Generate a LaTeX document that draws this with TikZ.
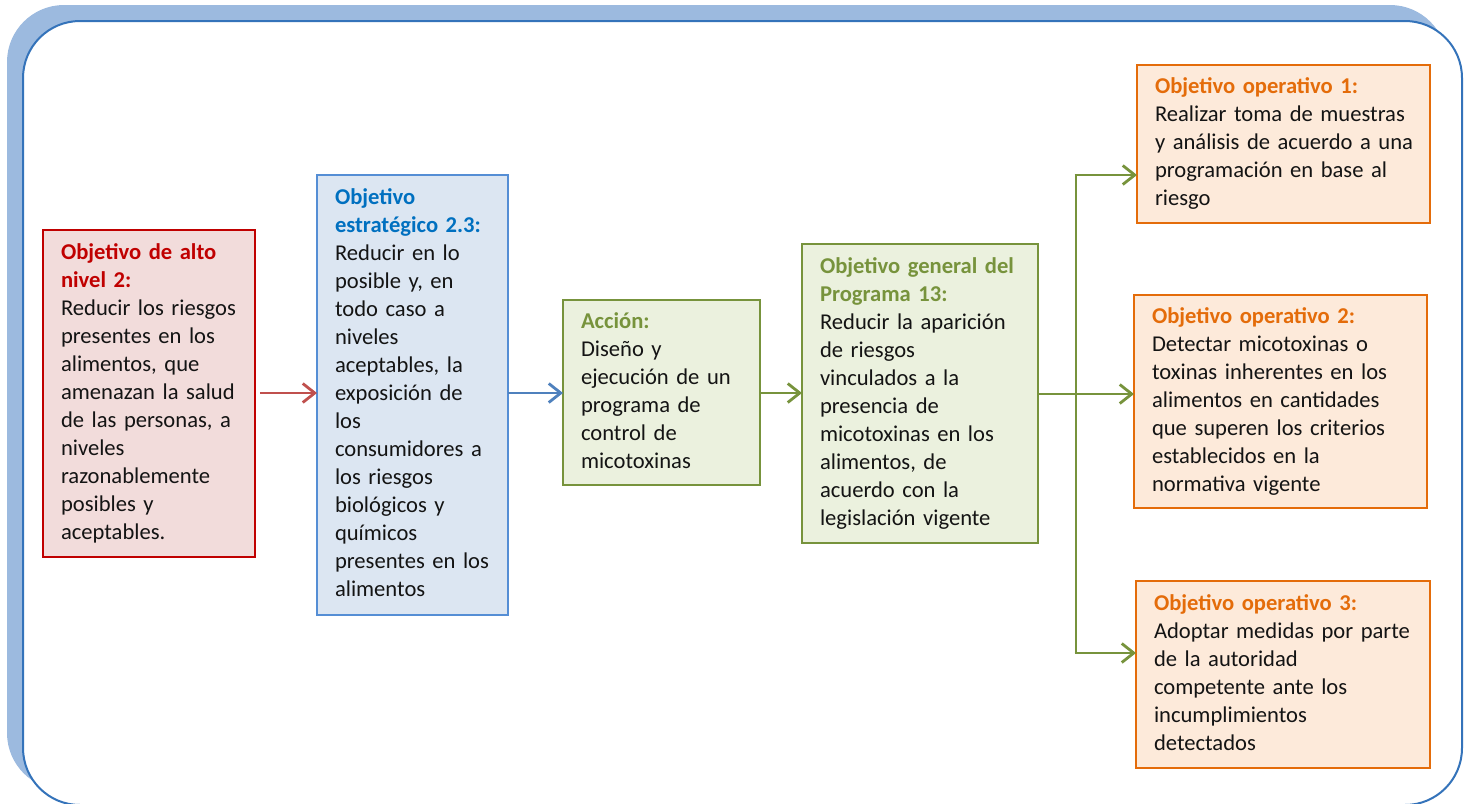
\documentclass[tikz,border=0pt]{standalone}
\usepackage{fontspec}
\setmainfont{Carlito}
\usetikzlibrary{arrows.meta}
\definecolor{framebl}{HTML}{3473BA}
\definecolor{shadowbl}{HTML}{9CBADF}
\definecolor{redln}{HTML}{C00000}
\definecolor{redfill}{HTML}{F2DCDB}
\definecolor{redarr}{HTML}{C0504D}
\definecolor{blueln}{HTML}{558ED5}
\definecolor{bluefill}{HTML}{DCE6F2}
\definecolor{bluetitle}{HTML}{0070C0}
\definecolor{bluearr}{HTML}{4F81BD}
\definecolor{greenln}{HTML}{77933C}
\definecolor{greenfill}{HTML}{EBF1DE}
\definecolor{orangeln}{HTML}{E46C0A}
\definecolor{orangefill}{HTML}{FDEADA}
\definecolor{bodytext}{HTML}{141414}
\newcommand\boxlines[1]{\noindent\begin{tabular}{@{}l@{}}#1\end{tabular}}
\newcommand\ttl[2]{{\color{#1}\bfseries #2}}
\tikzset{
  box/.style={draw, line width=2.8pt, anchor=north west, outer sep=0pt,
    inner xsep=18pt, inner ysep=0pt, align=left, text=bodytext,
    font=\fontsize{22.6}{28}\selectfont},
  conn/.style={line width=2.8pt, -{Straight Barb[length=12pt,width=19pt]}},
  plainconn/.style={line width=2.8pt},
}
\begin{document}
\begin{tikzpicture}[x=1pt,y=-1pt]
\useasboundingbox (0,0) rectangle (1469,803);
\clip (0,0) rectangle (1469,803);
% frame with shadow
\fill[shadowbl, rounded corners=57pt] (7,5) rectangle (1447,790);
\draw[framebl, line width=2pt, fill=white, rounded corners=57pt] (23,21) rectangle (1462,805);

\node[box, draw=redln, fill=redfill, text width=176pt, minimum height=327pt] (b1) at (43,230)
 {\boxlines{\ttl{redln}{Objetivo de alto}\\\ttl{redln}{nivel 2:}\\
  Reducir los riesgos\\presentes en los\\alimentos, que\\amenazan la salud\\de las personas, a\\niveles\\razonablemente\\posibles y\\aceptables.}};

\node[box, draw=blueln, fill=bluefill, text width=155pt, minimum height=440pt] (b2) at (317,175)
 {\boxlines{\ttl{bluetitle}{Objetivo}\\\ttl{bluetitle}{estratégico 2.3:}\\
  Reducir en lo\\posible y, en\\todo caso a\\niveles\\aceptables, la\\exposición de\\los\\consumidores a\\los riesgos\\biológicos y\\químicos\\presentes en los\\alimentos}};

\node[box, draw=greenln, fill=greenfill, text width=161pt, minimum height=185pt] (b3) at (563,300)
 {\boxlines{\ttl{greenln}{Acción:}\\
  Diseño y\\ejecución de un\\programa de\\control de\\micotoxinas}};

\node[box, draw=greenln, fill=greenfill, text width=200pt, minimum height=299pt] (b4) at (802,244)
 {\boxlines{\ttl{greenln}{Objetivo general del}\\\ttl{greenln}{Programa 13:}\\
  Reducir la aparición\\de riesgos\\vinculados a la\\presencia de\\micotoxinas en los\\alimentos, de\\acuerdo con la\\legislación vigente}};

\node[box, draw=orangeln, fill=orangefill, text width=257pt, minimum height=158pt] (b5) at (1137,65)
 {\boxlines{\ttl{orangeln}{Objetivo operativo 1:}\\
  Realizar toma de muestras\\y análisis de acuerdo a una\\programación en base al\\riesgo}};

\node[box, draw=orangeln, fill=orangefill, text width=257pt, minimum height=213pt] (b6) at (1134,295)
 {\boxlines{\ttl{orangeln}{Objetivo operativo 2:}\\
  Detectar micotoxinas o\\toxinas inherentes en los\\alimentos en cantidades\\que superen los criterios\\establecidos en la\\normativa vigente}};

\node[box, draw=orangeln, fill=orangefill, text width=258pt, minimum height=187pt] (b7) at (1136,581)
 {\boxlines{\ttl{orangeln}{Objetivo operativo 3:}\\
  Adoptar medidas por parte\\de la autoridad\\competente ante los\\incumplimientos\\detectados}};

% connectors
\coordinate (r1) at (260,393);
\draw[conn, redarr] (r1) -- (r1 -| b2.west);
\coordinate (r2) at (508,393);
\draw[conn, bluearr] (r2) -- (r2 -| b3.west);
\coordinate (r3) at (760,393);
\draw[conn, greenln] (r3) -- (r3 -| b4.west);
\coordinate (r4) at (1038,394);
\draw[conn, greenln] (r4) -- (r4 -| b6.west);
\coordinate (jt) at (1076,175);
\coordinate (jb) at (1076,653);
\draw[plainconn, greenln] (jt) -- (jb);
\draw[conn, greenln] ([xshift=-1.4pt]jt) -- (jt -| b5.west);
\draw[conn, greenln] ([xshift=-1.4pt]jb) -- (jb -| b7.west);
\end{tikzpicture}
\end{document}
